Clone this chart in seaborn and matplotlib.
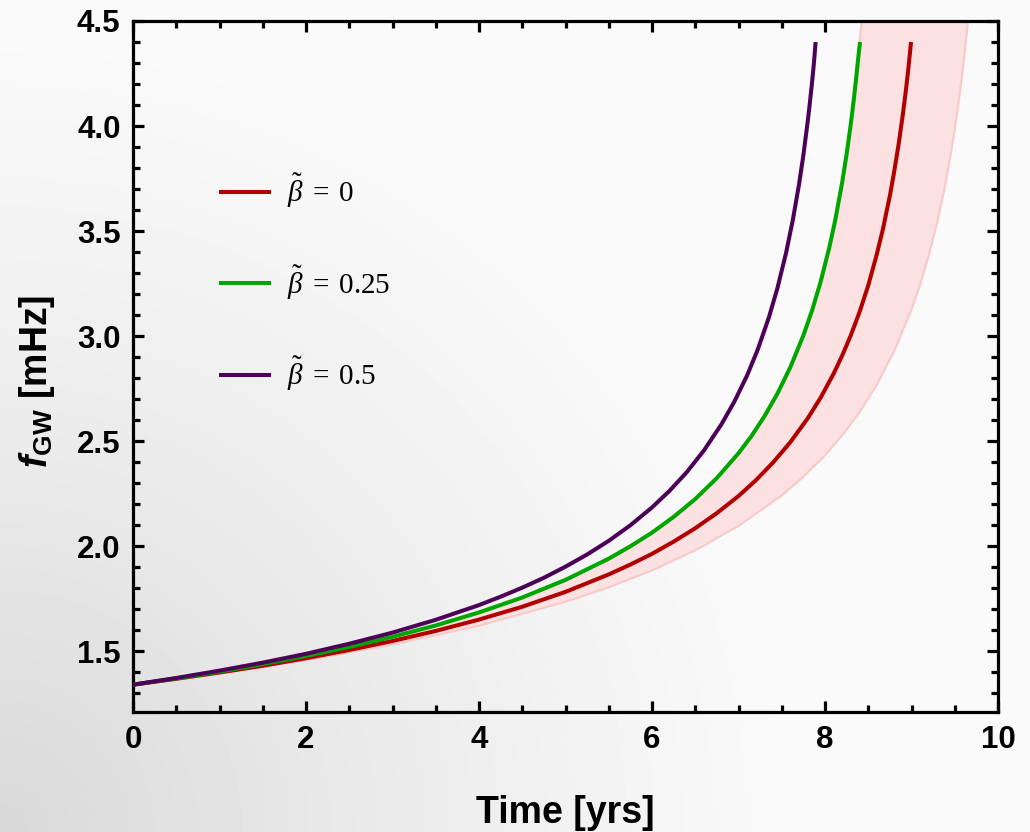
import numpy as np
import pandas as pd
import matplotlib
matplotlib.use("Agg")
import matplotlib.pyplot as plt
import seaborn as sns
from matplotlib.ticker import MultipleLocator

# ---------------- data ----------------
series_labels = [r"$\tilde{\beta}\;=\;0$", r"$\tilde{\beta}\;=\;0.25$", r"$\tilde{\beta}\;=\;0.5$"]
series_colors = ["#b20000", "#00a600", "#4d0057"]

time_b0 = [0, 0.5, 1, 1.5, 2, 2.5, 3, 3.5, 4, 4.5, 5, 5.5, 5.75, 6, 6.25, 6.5, 6.75, 7, 7.2, 7.4,
           7.6, 7.8, 7.95, 8.1, 8.2, 8.3, 8.4, 8.5, 8.6, 8.67, 8.75, 8.8, 8.85, 8.9, 8.93, 8.96,
           8.995]
freq_b0 = [1.340, 1.368, 1.398, 1.430, 1.466, 1.505, 1.548, 1.596, 1.650, 1.711, 1.782, 1.865,
           1.912, 1.963, 2.021, 2.085, 2.157, 2.238, 2.313, 2.398, 2.495, 2.608, 2.707, 2.821,
           2.908, 3.005, 3.115, 3.241, 3.391, 3.510, 3.668, 3.783, 3.910, 4.055, 4.152, 4.259,
           4.400]

time_b025 = [0, 0.5, 1, 1.5, 2, 2.5, 3, 3.5, 4, 4.5, 5, 5.5, 5.75, 6, 6.25, 6.5, 6.75, 7, 7.15,
             7.3, 7.45, 7.6, 7.75, 7.85, 7.95, 8.05, 8.12, 8.2, 8.25, 8.3, 8.33, 8.36, 8.385, 8.405]
freq_b025 = [1.340, 1.370, 1.402, 1.438, 1.477, 1.520, 1.568, 1.622, 1.684, 1.755, 1.839, 1.940,
             1.999, 2.064, 2.139, 2.224, 2.324, 2.442, 2.524, 2.618, 2.726, 2.852, 3.003, 3.121,
             3.259, 3.422, 3.555, 3.735, 3.866, 4.015, 4.116, 4.226, 4.327, 4.400]

time_b05 = [0, 0.5, 1, 1.5, 2, 2.5, 3, 3.5, 4, 4.25, 4.5, 4.75, 5, 5.25, 5.5, 5.75, 6, 6.2, 6.4,
            6.6, 6.8, 6.95, 7.1, 7.22, 7.35, 7.45, 7.55, 7.63, 7.7, 7.75, 7.8, 7.82, 7.85, 7.87,
            7.892]
freq_b05 = [1.340, 1.372, 1.407, 1.445, 1.487, 1.535, 1.588, 1.649, 1.719, 1.759, 1.802, 1.849,
            1.902, 1.960, 2.025, 2.099, 2.184, 2.262, 2.351, 2.455, 2.578, 2.686, 2.813, 2.933,
            3.087, 3.228, 3.396, 3.557, 3.723, 3.861, 4.021, 4.091, 4.207, 4.291, 4.400]

# uncertainty band around beta = 0 (early edge / late edge)
band_upper_time = [0, 0.5, 1, 1.5, 2, 2.5, 3, 3.5, 4, 4.5, 5, 5.5, 5.75, 6, 6.25, 6.5, 6.75, 7,
                   7.15, 7.3, 7.45, 7.6, 7.75, 7.85, 7.95, 8.05, 8.12, 8.2, 8.25, 8.3, 8.33, 8.36,
                   8.385, 8.43]
band_upper_freq = [1.340, 1.370, 1.402, 1.438, 1.477, 1.520, 1.568, 1.622, 1.684, 1.755, 1.839,
                   1.940, 1.999, 2.064, 2.139, 2.224, 2.324, 2.442, 2.524, 2.618, 2.726, 2.852,
                   3.003, 3.121, 3.259, 3.422, 3.555, 3.735, 3.866, 4.015, 4.116, 4.226, 4.327,
                   4.533]
band_lower_time = [0, 1, 2, 3, 4, 5, 5.5, 6, 6.5, 7, 7.5, 7.75, 8, 8.2, 8.4, 8.6, 8.8, 9.0, 9.1,
                   9.2, 9.3, 9.38, 9.45, 9.5, 9.55, 9.59, 9.62, 9.65, 9.67]
band_lower_freq = [1.340, 1.394, 1.456, 1.531, 1.621, 1.735, 1.804, 1.884, 1.980, 2.096, 2.241,
                   2.330, 2.432, 2.528, 2.638, 2.769, 2.928, 3.126, 3.245, 3.384, 3.546, 3.699,
                   3.856, 3.984, 4.129, 4.260, 4.369, 4.489, 4.576]

x_ticks = [0, 2, 4, 6, 8, 10]
y_ticks = [1.5, 2.0, 2.5, 3.0, 3.5, 4.0, 4.5]
x_label = "Time [yrs]"
y_label = r"$\mathbfit{f}_{\mathbf{GW}}$ [mHz]"

# ---------------- style ----------------
sns.set_theme(style="ticks")
plt.rcParams['font.family'] = ['Liberation Sans', 'DejaVu Sans']
plt.rcParams['mathtext.fontset'] = 'custom'
plt.rcParams['mathtext.rm'] = 'Liberation Serif'
plt.rcParams['mathtext.it'] = 'Liberation Serif:italic'
plt.rcParams['mathtext.bf'] = 'Liberation Sans:bold'
plt.rcParams['mathtext.bfit'] = 'Liberation Sans:italic:bold'
for key in ['text.color', 'axes.labelcolor', 'xtick.color', 'ytick.color', 'axes.edgecolor']:
    plt.rcParams[key] = 'black'

W, H = 1030, 832
fig = plt.figure(figsize=(W / 100, H / 100), dpi=100)

# soft radial grey gradient background from the bottom-left corner
yy, xx = np.mgrid[0:H, 0:W]
d = np.sqrt(xx ** 2 + (H - yy) ** 2)
grad = 0.98 - 0.13 * np.clip(1 - d / 820.0, 0, 1) ** 1.2
bg = fig.add_axes([0, 0, 1, 1], zorder=-5)
bg.imshow(grad, cmap='gray', vmin=0, vmax=1, extent=[0, 1, 0, 1], aspect='auto', origin='upper')
bg.axis('off')

ax = fig.add_axes([133 / W, 1 - 712 / H, (998 - 133) / W, (712 - 21) / H])
ax.set_facecolor('none')

# band
poly_t = list(band_upper_time) + list(band_lower_time[::-1])
poly_f = list(band_upper_freq) + list(band_lower_freq[::-1])
ax.fill(poly_t, poly_f, facecolor='#fbe1e1', edgecolor='#f8cbcb', lw=1.6, zorder=1)

df = pd.concat([
    pd.DataFrame({'Time': time_b0, 'f': freq_b0, 'beta': series_labels[0]}),
    pd.DataFrame({'Time': time_b025, 'f': freq_b025, 'beta': series_labels[1]}),
    pd.DataFrame({'Time': time_b05, 'f': freq_b05, 'beta': series_labels[2]}),
], ignore_index=True)

sns.lineplot(data=df, x='Time', y='f', hue='beta', hue_order=series_labels,
             palette=series_colors, estimator=None, sort=False, lw=2.9, ax=ax,
             zorder=3, solid_capstyle='butt', solid_joinstyle='round')

ax.set_xlim(0, 10)
ax.set_ylim(1.21, 4.5)
ax.set_xticks(x_ticks)
ax.set_yticks(y_ticks)
ax.xaxis.set_minor_locator(MultipleLocator(0.5))
ax.yaxis.set_minor_locator(MultipleLocator(0.1))
ax.tick_params(which='both', direction='in', top=True, right=True, color='black', width=2.3)
ax.tick_params(which='major', length=8, labelsize=22.5, pad=9)
ax.tick_params(which='minor', length=5)
for lab in ax.get_xticklabels() + ax.get_yticklabels():
    lab.set_fontweight('bold')
for sp in ax.spines.values():
    sp.set_linewidth(2.3)
    sp.set_color('black')
    sp.set_visible(True)

ax.set_xlabel(x_label, fontsize=27, fontweight='bold')
ax.set_ylabel(y_label, fontsize=27, fontweight='bold')
ax.xaxis.set_label_coords(0.5, -0.12)
ax.yaxis.set_label_coords(-0.088, 0.478)

handles, labels = ax.get_legend_handles_labels()
ax.legend(handles, labels, loc='upper left', bbox_to_anchor=(0.099, 0.782), frameon=False,
          fontsize=21, handlelength=1.8, handletextpad=0.55, labelspacing=1.82,
          borderpad=0, borderaxespad=0)

fig.savefig("out.png", dpi=100)
